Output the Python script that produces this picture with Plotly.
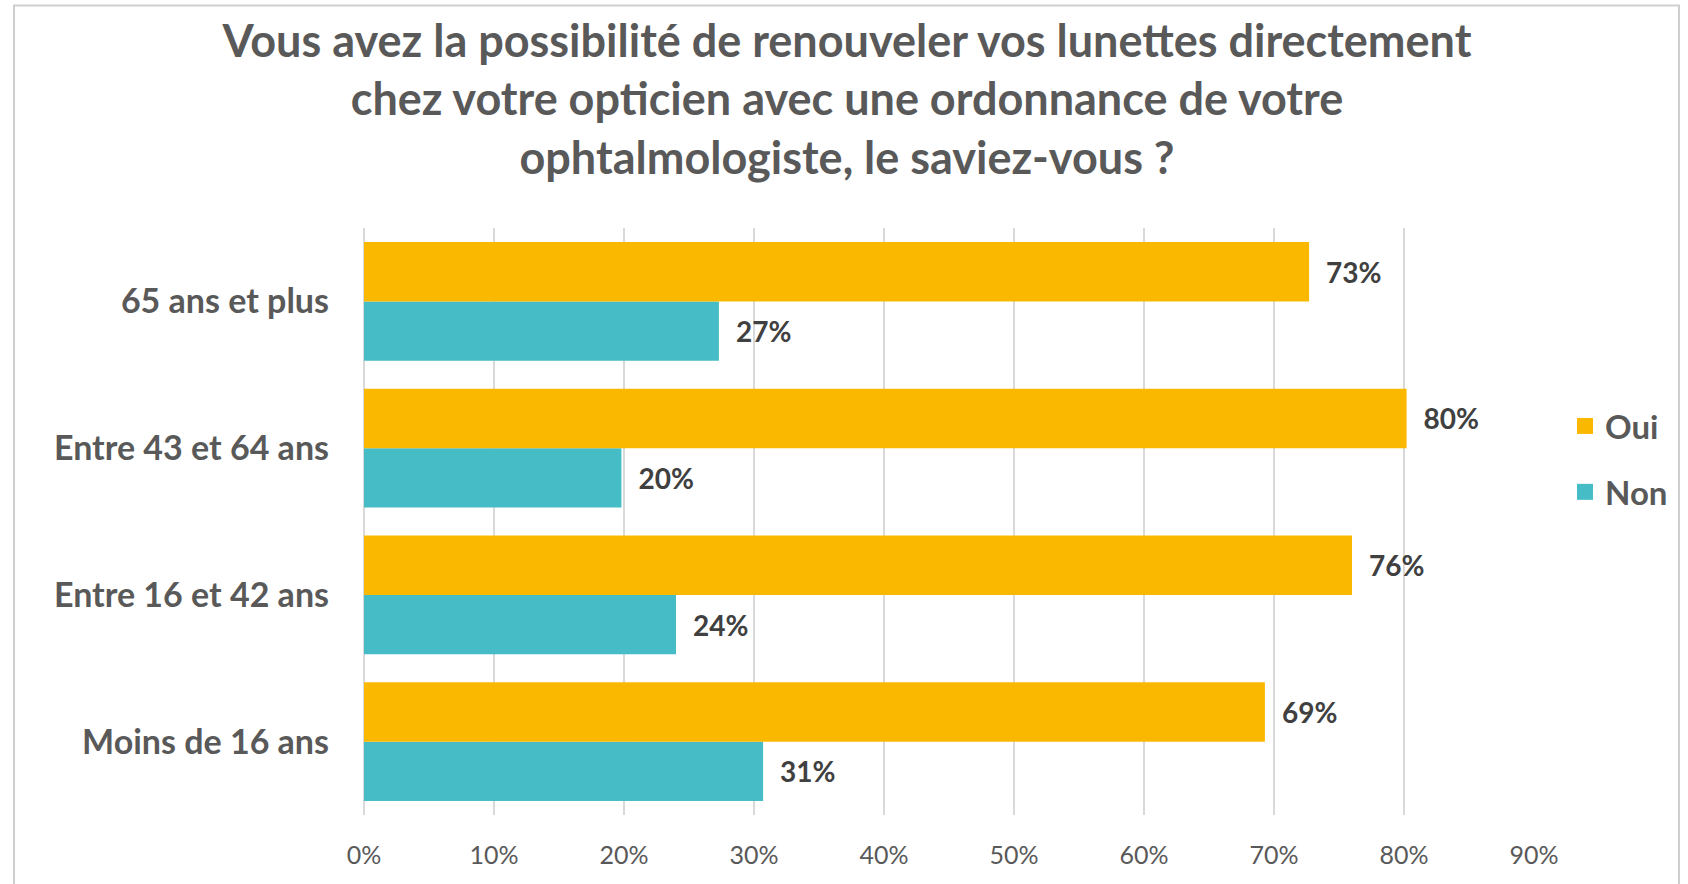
import plotly.graph_objects as go

# Data (categories listed bottom to top as drawn)
categories = ["Moins de 16 ans", "Entre 16 et 42 ans", "Entre 43 et 64 ans", "65 ans et plus"]
oui = [0.693, 0.760, 0.802, 0.727]
non = [0.307, 0.240, 0.198, 0.273]
series_names = ["Oui", "Non"]
x_ticks = [0, 0.1, 0.2, 0.3, 0.4, 0.5, 0.6, 0.7, 0.8, 0.9]
title_lines = [
    "Vous avez la possibilité de renouveler vos lunettes directement",
    "chez votre opticien avec une ordonnance de votre",
    "ophtalmologiste, le saviez-vous ?",
]

COL_OUI = "#FBB800"
COL_NON = "#46BDC6"
FONT = "Lato"
GREY = "#595959"

W, H = 1688, 884
L, R, T, B = 364, 154, 228, 69
PW, PH = W - L - R, H - T - B

fig = go.Figure()
fig.add_trace(go.Bar(
    y=categories, x=non, name=series_names[1], orientation="h",
    marker=dict(color=COL_NON, line=dict(width=0)),
    texttemplate="\u2002%{x:.0%}", textposition="outside", cliponaxis=False,
    textfont=dict(family=FONT, size=28, color="#404040", weight="bold"),
    showlegend=False,
))
fig.add_trace(go.Bar(
    y=categories, x=oui, name=series_names[0], orientation="h",
    marker=dict(color=COL_OUI, line=dict(width=0)),
    texttemplate="\u2002%{x:.0%}", textposition="outside", cliponaxis=False,
    textfont=dict(family=FONT, size=28, color="#404040", weight="bold"),
    showlegend=False,
))
# legend entries
for name, col in [(series_names[0], COL_OUI), (series_names[1], COL_NON)]:
    fig.add_trace(go.Scatter(
        x=[None], y=[None], mode="markers", name=name, legendgroup=name,
        marker=dict(symbol="square", size=16, color=col, line=dict(width=0)),
    ))

fig.update_layout(
    width=W, height=H,
    margin=dict(l=L, r=R, t=T, b=B, pad=0),
    paper_bgcolor="white", plot_bgcolor="white",
    barmode="group", bargap=0.19, bargroupgap=0,
    title=dict(
        text="<br>".join(title_lines),
        x=847 / W, xref="container", xanchor="center",
        y=1 - 56.5 / H, yref="container", yanchor="middle",
        font=dict(family=FONT, size=45, color=GREY, weight="bold"),
    ),
    font=dict(family=FONT, color=GREY),
    legend=dict(
        x=(1565 - L) / PW, xanchor="left",
        y=(H - B - 459) / PH, yanchor="middle",
        font=dict(family=FONT, size=33, color=GREY, weight="bold"),
        traceorder="grouped", tracegroupgap=20,
        bgcolor="rgba(0,0,0,0)",
    ),
    xaxis=dict(
        range=[0, 0.9], tickvals=x_ticks, tickformat=".0%",
        showgrid=True, gridcolor="#D9D9D9", gridwidth=1.5,
        zeroline=True, zerolinecolor="#D9D9D9", zerolinewidth=1.5,
        showline=False, ticks="",
        tickfont=dict(family=FONT, size=25, color=GREY),
        ticklabelstandoff=23,
    ),
    yaxis=dict(
        categoryorder="array", categoryarray=categories,
        showgrid=False, zeroline=False, showline=False, ticks="",
        tickfont=dict(family=FONT, size=34, color=GREY, weight="bold"),
        ticklabelstandoff=34,
    ),
    shapes=[dict(
        type="rect", xref="paper", yref="paper",
        x0=(14 - L) / PW, x1=(1679 - L) / PW,
        y0=(H - B - 900) / PH, y1=(H - B - 5.5) / PH,
        line=dict(color="#CFCFCF", width=2), fillcolor="rgba(0,0,0,0)",
        layer="below",
    )],
)

fig.write_html("out.html", config={"displayModeBar": False},
               post_script="document.body.style.margin='0';")
